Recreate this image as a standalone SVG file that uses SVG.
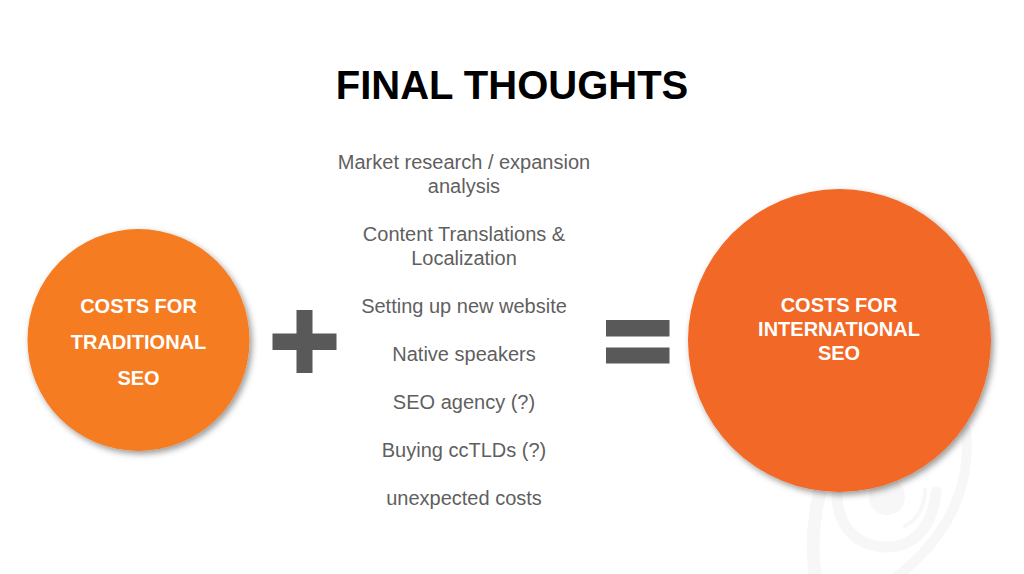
<svg xmlns="http://www.w3.org/2000/svg" width="1024" height="574" viewBox="0 0 1024 574">
<style>
text{font-family:"Liberation Sans",Arial,sans-serif;text-anchor:middle}
.b{font-size:20px;fill:#5f5f5f}
.w{font-size:20px;font-weight:bold;fill:#fff}
.t{font-size:40px;font-weight:bold;fill:#000}
.g{fill:#595959}
.wm{fill:none;stroke:#f7f7f7;stroke-linecap:round}
</style>
<defs>
<filter id="sh" x="-10%" y="-10%" width="125%" height="125%">
<feDropShadow dx="2.500" dy="3" stdDeviation="3" flood-color="#000" flood-opacity="0.4"/>
</filter>
</defs>
<rect width="1024" height="574" fill="#fff"/>
<g id="watermark">
<path class="wm" stroke-width="13" d="M826 470C813 510 810 545 816 580"/>
<path class="wm" stroke-width="10" d="M966 430C972 490 945 540 895 578"/>
<path class="wm" stroke-width="11" d="M837 495C838 530 860 547 887 547C915 547 933 525 936 492"/>
<path class="wm" stroke-width="4" d="M905 526C918 520 925 505 925 490"/>
<circle cx="887" cy="497" r="18" fill="#f7f7f7"/>
</g>
<text class="t" x="512" y="98.500">FINAL THOUGHTS</text>
<g id="traditional">
<circle cx="138.500" cy="340" r="111" fill="#f67b22" filter="url(#sh)"/>
<text class="w" x="138.500" y="313">COSTS FOR</text>
<text class="w" x="138.500" y="349">TRADITIONAL</text>
<text class="w" x="138.500" y="385">SEO</text>
</g>
<g id="plus"><path class="g" d="M296.500 310H312.500V333.500H336.500V350H312.500V373H296.500V350H272.500V333.500H296.500Z"/></g>
<g id="list">
<text class="b" x="464" y="168.500">Market research / expansion</text>
<text class="b" x="464" y="192.500">analysis</text>
<text class="b" x="464" y="240.500">Content Translations &amp;</text>
<text class="b" x="464" y="264.500">Localization</text>
<text class="b" x="464" y="312.500">Setting up new website</text>
<text class="b" x="464" y="360.500">Native speakers</text>
<text class="b" x="464" y="408.500">SEO agency (?)</text>
<text class="b" x="464" y="456.500">Buying ccTLDs (?)</text>
<text class="b" x="464" y="504.500">unexpected costs</text>
</g>
<g id="equals"><rect class="g" x="606" y="320" width="63.500" height="16.500"/><rect class="g" x="606" y="347.500" width="63.500" height="16"/></g>
<g id="international">
<circle cx="839.500" cy="340.500" r="151.500" fill="#f26826" filter="url(#sh)"/>
<text class="w" x="839" y="312">COSTS FOR</text>
<text class="w" x="839" y="336">INTERNATIONAL</text>
<text class="w" x="839" y="360">SEO</text>
</g>
</svg>
